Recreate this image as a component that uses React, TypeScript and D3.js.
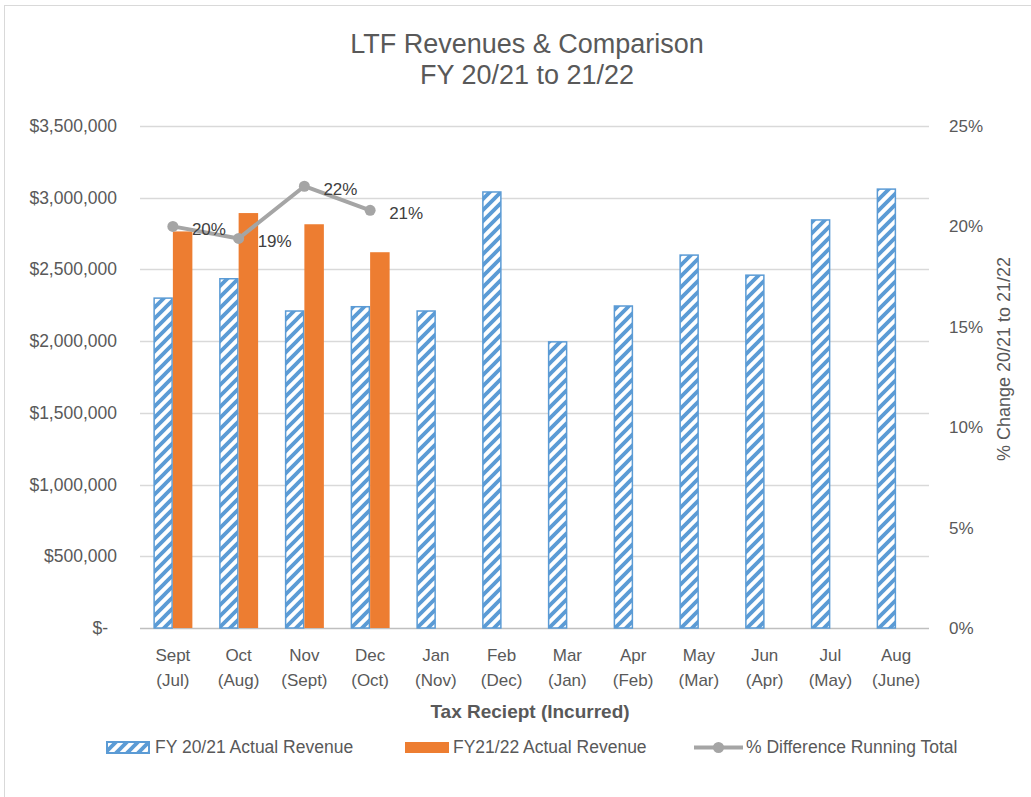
import React from "react";
import * as d3 from "d3";

const categories = ["Sept|(Jul)", "Oct|(Aug)", "Nov|(Sept)", "Dec|(Oct)", "Jan|(Nov)", "Feb|(Dec)", "Mar|(Jan)", "Apr|(Feb)", "May|(Mar)", "Jun|(Apr)", "Jul|(May)", "Aug|(June)"];
const fy2021 = [2300000, 2435000, 2210000, 2240000, 2210000, 3040000, 1995000, 2245000, 2600000, 2460000, 2845000, 3060000];
const fy2122 = [2765000, 2893000, 2815000, 2620000];
const pctDiff = [0.200, 0.194, 0.220, 0.208];
const pctLabels = ["20%", "19%", "22%", "21%"];
const leftTicks = [0, 500000, 1000000, 1500000, 2000000, 2500000, 3000000, 3500000];
const rightTicks = [0, 0.05, 0.1, 0.15, 0.2, 0.25];

const FONT = "'Liberation Sans', Arial, sans-serif";
const GREY = "#595959";

export default function App() {
  const W = 1031, H = 797;
  const left = 140, right = 929, top = 126, bottom = 628;
  const x = d3.scaleBand<string>().domain(categories).range([left, right]);
  const y = d3.scaleLinear().domain([0, 3500000]).range([bottom, top]);
  const y2 = d3.scaleLinear().domain([0, 0.25]).range([bottom, top]);
  const bw = 19.5;
  const fmt = d3.format(",");
  const cx = (i: number) => x(categories[i])! + x.bandwidth() / 2;
  const line = d3.line<number>().x((_, i) => cx(i)).y((d) => y2(d));

  return (
    <svg width={W} height={H} style={{ position: "absolute", left: 0, top: 0 }} fontFamily={FONT}>
      <defs>
        <pattern id="hatch" patternUnits="userSpaceOnUse" width="11" height="11">
          <rect width="11" height="11" fill="#ffffff" />
          <path d="M-3,3 L3,-3 M0,11 L11,0 M8,14 L14,8" stroke="#5B9BD5" strokeWidth="3.8" />
        </pattern>
      </defs>
      <rect x={0} y={0} width={W} height={H} fill="#fff" />
      <rect x={4.5} y={5.5} width={W + 10} height={H + 10} fill="none" stroke="#d9d9d9" strokeWidth={1} />

      <text x={527} y={53} textAnchor="middle" fontSize={27} fill={GREY}>LTF Revenues &amp; Comparison</text>
      <text x={527} y={84} textAnchor="middle" fontSize={27} fill={GREY}>FY 20/21 to 21/22</text>

      {leftTicks.map((t) => (
        <line key={"g" + t} x1={left} x2={right} y1={Math.round(y(t)) + 0.5} y2={Math.round(y(t)) + 0.5} stroke={t === 0 ? "#bfbfbf" : "#d9d9d9"} strokeWidth={1.5} />
      ))}
      {leftTicks.map((t) => (
        <text key={"l" + t} x={t === 0 ? 108 : 117} y={y(t) + 6} fontSize={17.5} fill={GREY} textAnchor="end">{t === 0 ? "$-" : "$" + fmt(t)}</text>
      ))}
      {rightTicks.map((t) => (
        <text key={"r" + t} x={949} y={y2(t) + 6} fontSize={17} fill={GREY}>{d3.format(".0%")(t)}</text>
      ))}

      {categories.map((c, i) => (
        <rect key={"b1" + c} x={cx(i) - bw + 0.75} y={y(fy2021[i])} width={bw - 1.5} height={bottom - y(fy2021[i])} fill="url(#hatch)" stroke="#5B9BD5" strokeWidth={1.5} />
      ))}
      {fy2122.map((v, i) => (
        <rect key={"b2" + i} x={cx(i)} y={y(v)} width={bw} height={bottom - y(v)} fill="#ED7D31" />
      ))}

      <path d={line(pctDiff) || ""} fill="none" stroke="#A5A5A5" strokeWidth={4} strokeLinejoin="round" />
      {pctDiff.map((v, i) => (
        <circle key={"p" + i} cx={cx(i)} cy={y2(v)} r={5.5} fill="#A5A5A5" />
      ))}
      {pctDiff.map((v, i) => (
        <text key={"pl" + i} x={cx(i) + 19} y={y2(v) + 9} fontSize={17} fill="#404040">{pctLabels[i]}</text>
      ))}

      {categories.map((c, i) => {
        const [a, b] = c.split("|");
        return (
          <g key={"x" + c}>
            <text x={cx(i)} y={661} textAnchor="middle" fontSize={17} fill={GREY}>{a}</text>
            <text x={cx(i)} y={686} textAnchor="middle" fontSize={17} fill={GREY}>{b}</text>
          </g>
        );
      })}

      <text x={530} y={718} textAnchor="middle" fontSize={19} fontWeight="bold" fill={GREY}>Tax Reciept (Incurred)</text>
      <text transform={`translate(1010,359) rotate(-90)`} textAnchor="middle" fontSize={18} fill={GREY}>% Change 20/21 to 21/22</text>

      <rect x={107} y={742} width={42} height={11} fill="url(#hatch)" stroke="#5B9BD5" strokeWidth={2} />
      <text x={155} y={753} fontSize={17.5} fill={GREY}>FY 20/21 Actual Revenue</text>
      <rect x={405} y={742} width={44} height={11} fill="#ED7D31" />
      <text x={453} y={753} fontSize={17.5} fill={GREY}>FY21/22 Actual Revenue</text>
      <line x1={694} x2={743} y1={747.5} y2={747.5} stroke="#A5A5A5" strokeWidth={4} />
      <circle cx={718.5} cy={747.5} r={5.5} fill="#A5A5A5" />
      <text x={746} y={753} fontSize={17.5} fill={GREY}>% Difference Running Total</text>
    </svg>
  );
}
